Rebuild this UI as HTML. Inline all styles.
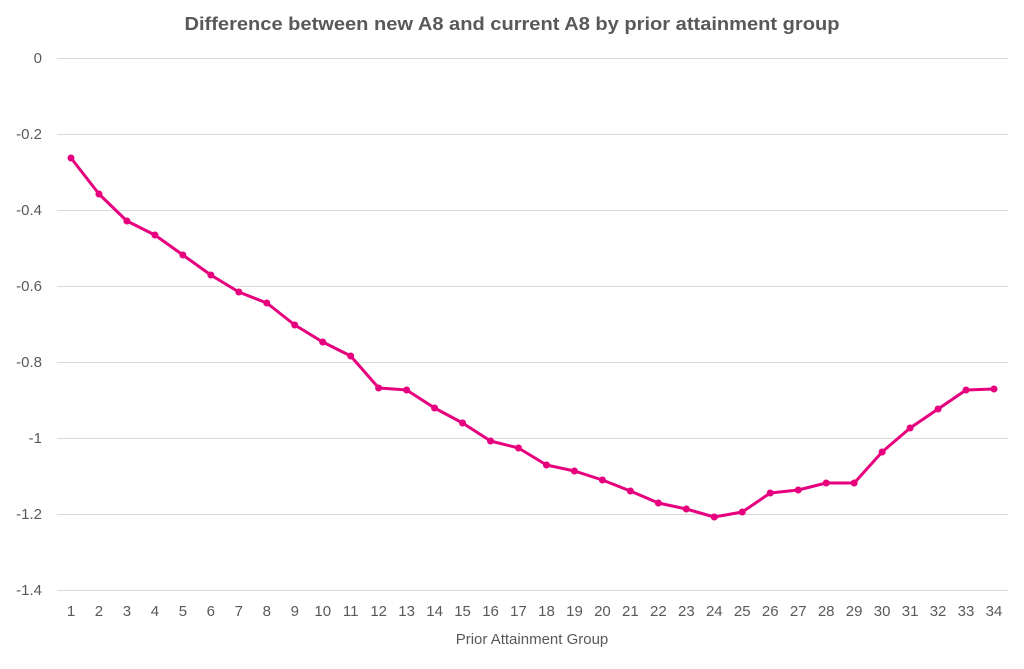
<!DOCTYPE html>
<html><head><meta charset="utf-8"><style>
html,body{margin:0;padding:0;background:#fff;}
svg{display:block;font-family:"Liberation Sans",sans-serif;}
</style></head><body>
<svg width="1024" height="669" viewBox="0 0 1024 669">
<text x="512" y="30" text-anchor="middle" font-size="18" font-weight="bold" fill="#595959" textLength="655" lengthAdjust="spacingAndGlyphs">Difference between new A8 and current A8 by prior attainment group</text>
<g stroke="#d9d9d9" stroke-width="1">
<line x1="57" x2="1008" y1="58.5" y2="58.5"/>
<line x1="57" x2="1008" y1="134.5" y2="134.5"/>
<line x1="57" x2="1008" y1="210.5" y2="210.5"/>
<line x1="57" x2="1008" y1="286.5" y2="286.5"/>
<line x1="57" x2="1008" y1="362.5" y2="362.5"/>
<line x1="57" x2="1008" y1="438.5" y2="438.5"/>
<line x1="57" x2="1008" y1="514.5" y2="514.5"/>
<line x1="57" x2="1008" y1="590.5" y2="590.5"/>
</g>
<g font-size="15" fill="#595959" text-anchor="end">
<text x="42" y="63">0</text>
<text x="42" y="139">-0.2</text>
<text x="42" y="215">-0.4</text>
<text x="42" y="291">-0.6</text>
<text x="42" y="367">-0.8</text>
<text x="42" y="443">-1</text>
<text x="42" y="519">-1.2</text>
<text x="42" y="595">-1.4</text>
</g>
<g id="xl" font-size="15" fill="#595959" text-anchor="middle"></g>
<text x="532" y="644" text-anchor="middle" font-size="15" fill="#595959">Prior Attainment Group</text>
<polyline id="ln" fill="none" stroke="#e6007e" stroke-width="3" stroke-linejoin="round"/>
<g id="mk" fill="#e6007e"></g>
<script>
var ys=[158,194,221,235,255,275,292,303,325,342,356,388,390,408,423,441,448,465,471,480,491,503,509,517,512,493,490,483,483,452,428,409,390,389];
var pts=[],xl=document.getElementById('xl'),mk=document.getElementById('mk'),ns="http://www.w3.org/2000/svg";
for(var i=0;i<34;i++){var x=71+i*923/33;pts.push(x.toFixed(1)+","+ys[i]);
var t=document.createElementNS(ns,'text');t.setAttribute('x',x);t.setAttribute('y',616);t.textContent=i+1;xl.appendChild(t);
var c=document.createElementNS(ns,'circle');c.setAttribute('cx',x);c.setAttribute('cy',ys[i]);c.setAttribute('r',3.5);mk.appendChild(c);}
document.getElementById('ln').setAttribute('points',pts.join(' '));
</script>
</svg>
</body></html>
